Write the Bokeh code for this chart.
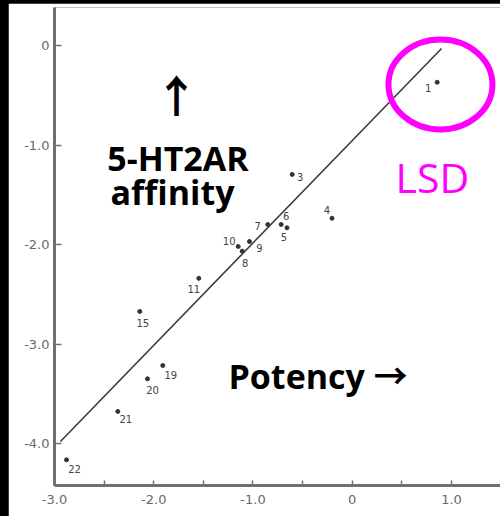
from bokeh.plotting import figure
from bokeh.models import FixedTicker, CustomJSTickFormatter, ColumnDataSource, Range1d
from bokeh.layouts import column
from bokeh.embed import file_html
from bokeh.resources import INLINE
from bokeh.core.properties import value

# compounds: log potency (x) vs log 5-HT2 affinity (y)
compound_ids = ["1", "3", "4", "5", "6", "7", "8", "9", "10", "11",
                "15", "19", "20", "21", "22"]
potency = [0.856, -0.605, -0.204, -0.657, -0.716, -0.851, -1.109, -1.035,
           -1.149, -1.546, -2.141, -1.909, -2.063, -2.362, -2.879]
affinity = [-0.369, -1.296, -1.736, -1.832, -1.799, -1.799, -2.067, -1.970,
            -2.020, -2.340, -2.673, -3.216, -3.350, -3.678, -4.164]

# regression line end points
fit_x = [-2.94, 0.90]
fit_y = [-3.98, -0.03]

x_ticks = [-3, -2, -1, 0, 1]
x_minor_ticks = [-2.5, -1.5, -0.5, 0.5, 1.5]
y_ticks = [0, -1, -2, -3, -4]

# pixel nudges for the compound numbers (dx, dy)
label_dx = [-9, 8, -5, -3, 5, -10, 3, 10, -9, -5, 3, 8, 5, 8, 8]
label_dy = [6, 3, -8, 9, -9, 1, 12, 6, -6, 11, 12, 9, 11, 8, 9]

src = ColumnDataSource(dict(x=potency, y=affinity, name=compound_ids,
                            dx=label_dx, dy=label_dy))

p = figure(width=492, height=513, output_backend="svg", toolbar_location=None,
           x_range=Range1d(-3.0, 1.494), y_range=Range1d(-4.422, 0.382),
           min_border_left=46, min_border_top=4, min_border_bottom=31,
           min_border_right=0)
p.outline_line_color = None
p.grid.visible = False
p.background_fill_color = "white"
p.border_fill_color = "white"

axis_color = "#6f6f6f"
for ax in (p.xaxis[0], p.yaxis[0]):
    ax.axis_line_width = 3
    ax.axis_line_color = axis_color
    ax.major_tick_line_color = axis_color
    ax.minor_tick_line_color = axis_color
    ax.major_tick_line_width = 1.5
    ax.minor_tick_line_width = 1.5
    ax.major_tick_out = 0
    ax.minor_tick_out = 0
    ax.major_label_text_font = "DejaVu Sans"
    ax.major_label_text_font_size = "13px"
    ax.major_label_text_color = "#6a6a6a"
    ax.formatter = CustomJSTickFormatter(code="return tick == 0 ? '0' : tick.toFixed(1);")

p.xaxis.ticker = FixedTicker(ticks=x_ticks, minor_ticks=x_minor_ticks)
p.xaxis.major_tick_in = 5
p.xaxis.minor_tick_in = 5
p.xaxis.major_label_standoff = 9

p.yaxis.ticker = FixedTicker(ticks=y_ticks, minor_ticks=[])
p.yaxis.major_tick_in = 7
p.yaxis.minor_tick_in = 0
p.yaxis.major_label_standoff = 5

p.line(fit_x, fit_y, line_color="#3c3c3c", line_width=1.6)
p.scatter("x", "y", source=src, size=4, color="#333333")
p.text("x", "y", text="name", source=src, x_offset="dx", y_offset="dy",
       text_font=value("DejaVu Sans"), text_font_size="10px",
       text_color="#444444", text_align="center", text_baseline="middle")

# LSD highlight
p.ellipse(x=[0.889], y=[-0.392], width=[1.048], height=[0.905],
          fill_color=None, line_color="#ff00ff", line_width=6)
p.text(x=[0.436], y=[-1.497], text=["LSD"], text_font=value("Open Sans"),
       text_font_size="41px", text_color="#ff00ff", y_offset=-17,
       text_align="left", text_baseline="alphabetic")

# axis captions written inside the plot
big_font = value("Open Sans, Noto Sans CJK JP")
p.text(x=[-1.771], y=[-0.492], text=["\u2191"],
       text_font=value("Noto Sans CJK JP"), text_font_size="44px",
       text_font_style="bold", text_color="black",
       text_align="center", text_baseline="middle")
p.text(x=[-1.756, -1.811], y=[-1.136, -1.487], text=["5-HT2AR", "affinity"],
       text_font=big_font, text_font_size="34px", y_offset=-1,
       text_font_style="bold", text_color="black",
       text_align="center", text_baseline="alphabetic")
p.text(x=[-1.247], y=[-3.447], text=["Potency \u2192"],
       text_font=big_font, text_font_size="34px", y_offset=-12,
       text_font_style="bold", text_color="black",
       text_align="left", text_baseline="alphabetic")

layout = column(p, styles={"background-color": "black",
                           "padding": "3px 0px 0px 8px"})

open("out.html", "w").write(file_html(layout, INLINE))
